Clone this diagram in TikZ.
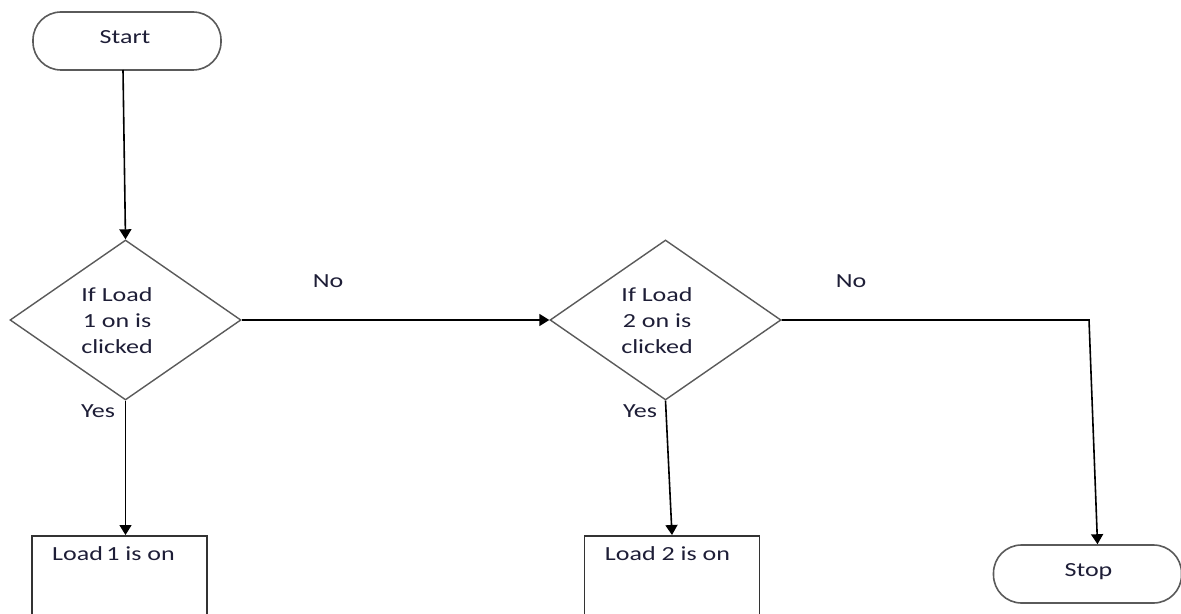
\documentclass[tikz,border=0pt]{standalone}
\usepackage{fontspec}
\setmainfont{Carlito}[FakeStretch=1.3]
\usetikzlibrary{shapes.geometric,arrows.meta}
\definecolor{txtc}{RGB}{30,30,55}
\definecolor{edgec}{RGB}{90,90,90}
\begin{document}
\begin{tikzpicture}[x=0.5pt,y=-0.5pt,
  every node/.style={font=\fontsize{10}{13}\selectfont, text=txtc},
  term/.style={draw=edgec, line width=0.8pt, rounded corners=14pt, minimum width=94pt, minimum height=29pt, inner sep=0pt},
  dec/.style={diamond, draw=edgec, line width=0.7pt, minimum width=115.5pt, minimum height=80pt, inner sep=0pt},
  procbox/.style={draw=black!80, line width=0.8pt, minimum width=87.5pt, minimum height=100pt, anchor=north, inner sep=0pt},
  lbl/.style={align=center, inner sep=0pt},
  flow/.style={-{Triangle[length=5pt,width=6pt]}, line width=0.8pt, black}]
\useasboundingbox (0,0) rectangle (1181,614);
\clip (0,0) rectangle (1181,614);
\fill[white] (0,0) rectangle (1181,614);
% shapes
\node[term] (start) at (127,41) {};
\node[lbl] (starttxt) at (125,37) {Start};
\node[dec] (d1) at (125.5,320) {};
\node[lbl] (d1txt) at (117,321) {If Load\\1 on is\\clicked};
\node[dec] (d2) at (665.5,320) {};
\node[lbl] (d2txt) at (657,321) {If Load\\2 on is\\clicked};
\node[procbox] (b1) at (119.5,535) {};
\node[lbl] (b1txt) at (113.5,554) {Load\,1 is on};
\node[procbox] (b2) at (672,535) {};
\node[lbl] (b2txt) at (667.5,554) {Load 2 is on};
\node[term] (stop) at (1087.5,574) {};
\node[lbl] (stoptxt) at (1088.5,572) {Stop};
% labels
\node[lbl] (no1) at (328,281) {No};
\node[lbl] (no2) at (851,281) {No};
\node[lbl] (yes1) at (98,411) {Yes};
\node[lbl] (yes2) at (640,411) {Yes};
% connectors
\coordinate (c1) at (123,70);
\coordinate (c2) at (1089,320);
\draw[flow] (c1) -- (d1.north);
\draw[flow] (d1.east) -- (d2.west);
\draw[flow] (d1.south) -- (d1.south |- b1.north);
\draw[flow] (d2.south) -- (b2.north);
\draw[flow] (d2.east) -- (c2) -- ([xshift=5pt]stop.north);
\end{tikzpicture}
\end{document}
